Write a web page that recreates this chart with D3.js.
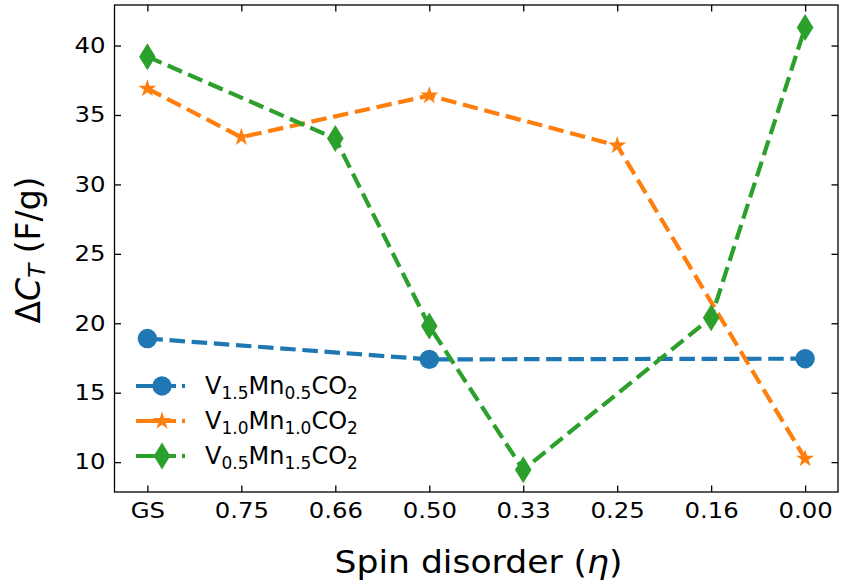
<!DOCTYPE html>
<html><head><meta charset="utf-8">
<script src="https://cdn.jsdelivr.net/npm/d3@7"></script>
<style>body{margin:0;background:#fff}svg{display:block}text{font-family:"DejaVu Sans",sans-serif}</style>
</head><body>
<svg id="c" width="844" height="581"></svg>
<script>
const categories = ["GS","0.75","0.66","0.50","0.33","0.25","0.16","0.00"];
const seriesNames = ["V1.5Mn0.5CO2","V1.0Mn1.0CO2","V0.5Mn1.5CO2"];
const blueX = ["GS","0.50","0.00"];
const blueY = [18.9, 17.4, 17.45];
const orangeX = ["GS","0.75","0.50","0.25","0.00"];
const orangeY = [36.9, 33.4, 36.4, 32.8, 10.25];
const greenX = ["GS","0.66","0.50","0.33","0.16","0.00"];
const greenY = [39.2, 33.3, 19.8, 9.45, 20.4, 41.3];
const yTicks = [10,15,20,25,30,35,40];
const legendParts = [["V","1.5","Mn","0.5","CO","2"],["V","1.0","Mn","1.0","CO","2"],["V","0.5","Mn","1.5","CO","2"]];

const colors = ["#1f77b4","#ff7f0e","#2ca02c"];
const svg = d3.select("#c");
const L=114.5, R=838, T=5, B=492;
const idx = d3.scaleLinear().domain([-0.35, 7.35]).range([L, R]);
const x = c => idx(categories.indexOf(c));
const y = d3.scaleLinear().domain([7.85, 42.92]).range([B, T]);

const LW = 4.2, DASH = "15.5,6.7";

// axes frame
svg.append("rect").attr("x",L).attr("y",T).attr("width",R-L).attr("height",B-T)
  .attr("fill","none").attr("stroke","#000").attr("stroke-width",1.3);

const tl = 6.5;
const tickScale = d3.scaleLinear().domain(idx.domain()).range(idx.range());
const gx = svg.append("g").attr("transform",`translate(0,${B})`)
  .call(d3.axisBottom(tickScale).tickValues(d3.range(categories.length)).tickFormat(i=>categories[i]).tickSize(-tl).tickPadding(11));
const gxt = svg.append("g").attr("transform",`translate(0,${T})`)
  .call(d3.axisTop(tickScale).tickValues(d3.range(categories.length)).tickFormat("").tickSize(-tl));
const gy = svg.append("g").attr("transform",`translate(${L},0)`)
  .call(d3.axisLeft(y).tickValues(yTicks).tickSize(-tl).tickPadding(9));
const gyr = svg.append("g").attr("transform",`translate(${R},0)`)
  .call(d3.axisRight(y).tickValues(yTicks).tickFormat("").tickSize(-tl));
[gx,gxt,gy,gyr].forEach(g=>{
  g.select(".domain").remove();
  g.selectAll(".tick line").attr("stroke","#000").attr("stroke-width",1.3);
  g.selectAll("text").attr("font-size",21).attr("fill","#000").attr("font-family","DejaVu Sans");
});
[gx,gy].forEach(g=>g.selectAll(".tick text").each(function(){
  const len = this.getComputedTextLength();
  d3.select(this).attr("textLength",len*1.16).attr("lengthAdjust","spacingAndGlyphs");
}));

// markers
function starPath(ro){
  const ri = ro*0.381966; let p="";
  for(let k=0;k<10;k++){
    const r = k%2?ri:ro; const a = -Math.PI/2 + k*Math.PI/5;
    p += (k?"L":"M")+(r*Math.cos(a)).toFixed(2)+","+(r*Math.sin(a)).toFixed(2);
  }
  return p+"Z";
}
function marker(g, kind, color){
  if(kind===0) g.append("circle").attr("r",9.7).attr("fill",color);
  else if(kind===1) g.append("path").attr("d",starPath(9.5)).attr("fill",color);
  else g.append("path").attr("d","M0,-13.5L8.3,0L0,13.5L-8.3,0Z").attr("fill",color);
}

const series = [[blueX,blueY],[orangeX,orangeY],[greenX,greenY]];
const line = d3.line().x(d=>x(d[0])).y(d=>y(d[1]));
series.forEach(([xs,ys],s)=>{
  const pts = xs.map((c,i)=>[c,ys[i]]);
  svg.append("path").datum(pts).attr("d",line).attr("fill","none")
    .attr("stroke",colors[s]).attr("stroke-width",LW).attr("stroke-dasharray",DASH);
  pts.forEach(p=>{
    const g = svg.append("g").attr("transform",`translate(${x(p[0])},${y(p[1])})`);
    marker(g,s,colors[s]);
  });
});

// legend
const legY = [386, 421, 456];
legendParts.forEach((parts,s)=>{
  const yy = legY[s];
  svg.append("line").attr("x1",136).attr("x2",176).attr("y1",yy).attr("y2",yy)
    .attr("stroke",colors[s]).attr("stroke-width",LW);
  svg.append("line").attr("x1",182).attr("x2",185).attr("y1",yy).attr("y2",yy)
    .attr("stroke",colors[s]).attr("stroke-width",LW);
  const g = svg.append("g").attr("transform",`translate(162,${yy})`);
  marker(g,s,colors[s]);
  const t = svg.append("text").attr("x",205).attr("y",yy+8).attr("font-size",24).attr("fill","#000");
  parts.forEach((p,i)=>{
    const sub = i%2===1;
    t.append("tspan").text(p).attr("font-size", sub?17:24).attr("dy", sub?5:(i===0?0:-5));
  });
});

// axis labels
const xl = svg.append("text").attr("x",478.5).attr("y",573).attr("text-anchor","middle").attr("font-size",32)
  .html('Spin disorder (<tspan font-style="italic">η</tspan>)');
xl.attr("textLength",288).attr("lengthAdjust","spacingAndGlyphs");
const yl = svg.append("text").attr("transform","translate(40,250) rotate(-90)").attr("text-anchor","middle").attr("font-size",33);
yl.append("tspan").text("Δ");
yl.append("tspan").text("C").attr("font-style","italic");
yl.append("tspan").text("T").attr("font-style","italic").attr("font-size",23).attr("dy",5);
yl.append("tspan").text(" (F/g)").attr("dy",-5);
</script>
</body></html>
